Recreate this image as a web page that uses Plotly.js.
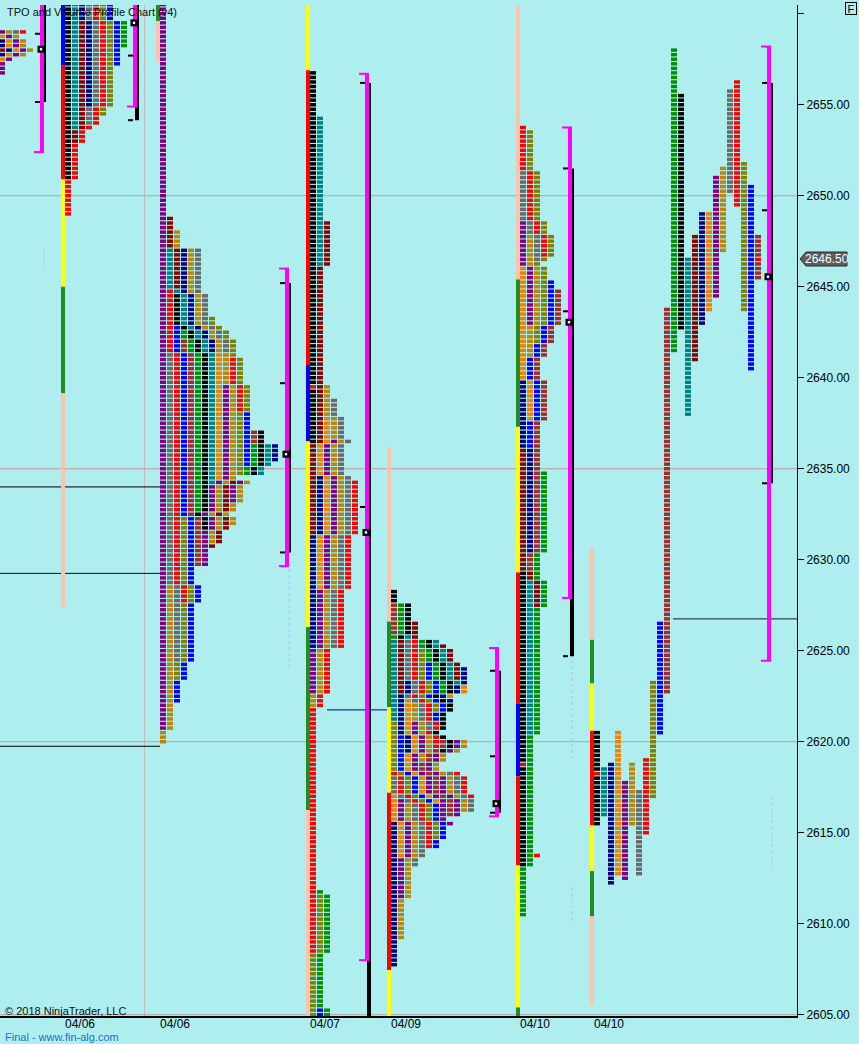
<!DOCTYPE html>
<html><head><meta charset="utf-8">
<script src="https://cdn.plot.ly/plotly-3.0.1.min.js"></script>
<style>html,body{margin:0;padding:0;background:#AFEEEE;}#chart{width:859px;height:1044px;}</style>
</head><body><div id="chart"></div>
<script>
// ---------------- DATA ----------------
// Session 1 (partial, far left) – TPO periods
const s1Colors = ['darkred','navy','orange','purple','goldenrod','gray','red'];
const s1Hi = [2658, 2658.5, 2658.75, 2659, 2659, 2659, 2659];
const s1Lo = [2658, 2657.75, 2657.5, 2656.75, 2657.75, 2659, 2659];

// Session 2 (04/06, first)
const s2Colors = ['black','teal','darkred','navy','gray','red','olive','blue','green'];
const s2Hi = [2661, 2661, 2659.5, 2661, 2661, 2661, 2661, 2661, 2659.5];
const s2Lo = [2651, 2653.75, 2653, 2655, 2654, 2649, 2654.5, 2657.25, 2658.25];

// Session 3 (04/06, main)
const s4Colors = ['purple','goldenrod','gray','red','olive','blue','brown','green','black','teal','darkred','navy','orange',
                  'purple','goldenrod','gray','red','olive','blue','brown','green','black','teal','darkred','navy','orange','purple','goldenrod'];
const s4Hi = [2661, 2628.5, 2641.25, 2644.75, 2632.25, 2642.75, 2642, 2642.5, 2644.5, 2647, 2648.75, 2647, 2641.25,
              2639.5, 2648, 2647, 2641, 2643.25, 2638, 2637, 2636.25, 2637, 2636.25, 2634.25, 2636.25, null, 2634.25, 2634.25];
const s4Lo = [2620.75, 2620, 2624.5, 2627.75, 2623.5, 2622.25, 2629.75, 2632.75, 2631.75, 2634.25, 2645, 2641.5, 2634.5,
              2629.75, 2631, 2641.5, 2638.25, 2634.75, 2635.25, 2636.5, 2634.75, 2634.75, 2634.75, 2630.75, 2635.5, null, 2633.25, 2632];

// Session 4 (04/07)
const s6Colors = ['black','teal','darkred','navy','orange','purple','goldenrod','gray','red','olive','blue','green'];
const s6Hi = [2656.75, 2654.25, 2648.5, 2634.5, 2637.75, 2636.5, 2639.5, 2638.75, 2634.25, 2611.5, 2605.25, 2611.75];
const s6Lo = [2636.5, 2646.25, 2631.5, 2625.25, 2628.5, 2622.75, 2622, 2625.25, 2608.5, 2604, 2604, 2604];
const s6Open = 2639.5;

// Session 5 (04/09)
const s8Colors = ['navy','orange','purple','goldenrod','gray','red','olive','blue','brown','green','black','teal','darkred',
                  'navy','orange','purple','goldenrod','gray','red','olive','blue','brown','green','black','teal','darkred',
                  'navy','orange','purple','goldenrod','gray','red'];
const s8Hi = [2615.5, 2617, 2616.75, 2616.5, 2618, 2618.25, 2621, 2620.25, 2627.5, 2627.5, 2628.25, 2625.75, 2626.5,
              2623.25, 2622.25, 2621, 2622, 2625.5, 2625.5, 2625, 2624.25, 2620, 2625.5, 2625.5, 2625.5, 2625.25,
              2624, 2623, 2620, 2620, 2618.25, 2618.25];
const s8Lo = [2607.75, 2613.75, 2611.5, 2609.25, 2613.25, 2614.25, 2614.75, 2614.25, 2626, 2625.75, 2625.75, 2621.25, 2622.75,
              2619.5, 2616.75, 2615.5, 2619, 2620.75, 2619.75, 2621.75, 2621.25, 2616, 2622.75, 2619.5, 2623.25, 2623.5,
              2622.25, 2622.5, 2616, 2616.25, 2616.25, 2617];

// Session 6 (04/10, first)
const s10Colors = ['black','teal','darkred','navy','orange','purple','goldenrod','gray','red','olive','blue','brown','green'];
const s10Hi = [2629.25, 2628.75, 2636, 2639.75, 2646, 2648.5, 2647.75, 2651.25, 2653.75, 2653.5, 2645.25, 2644.75, 2634.75];
const s10Lo = [2613.25, 2620.5, 2627.5, 2630.5, 2637.75, 2643, 2641.25, 2646.5, 2646.75, 2642, 2636.25, 2629.5, 2610.5];
const s10Open = 2618.75, s10Close = 2613.75;

// Session 7 (04/10, current – split periods)
const s12Colors = ['black','teal','navy','orange','purple','goldenrod','gray','red','olive','blue','brown','green',
                   'black','teal','darkred','navy','orange','purple','goldenrod','gray','red','olive','blue','brown'];
const s12Hi = [2620.5, 2618.5, 2618.75, 2620.5, 2617.75, 2618.75, 2617.25, 2619, 2623.25, 2626.5, 2643.75, 2658,
               2655.5, 2646.5, 2647.75, 2649, 2649, 2651, 2651.5, 2655.75, 2656.25, 2651.75, 2650.5, 2647.75];
const s12Lo = [2615.5, 2616, 2612.25, 2612.75, 2612.5, 2615.5, 2612.75, 2615, 2617, 2620.5, 2622.75, 2641.5,
               2642.75, 2638, 2641, 2643, 2643.75, 2644.5, 2647, 2650.25, 2649.5, 2643.75, 2640.5, 2645.5];
const s12Open = 2618.25, lastPrice = 2646.5;

// Session range bars (value area = magenta, black range, mid tick, POC square)
const vaHi  = [2661, 2661, 2646, 2656.7, 2625.15, 2653.75, 2658.2];
const vaLo  = [2652.4, 2654.9, 2629.65, 2608, 2615.9, 2627.9, 2624.45];
const rngHi = [2661, 2661, 2645.2, 2656.2, 2623.9, 2651.5, 2656.2];
const rngLo = [2655.15, 2654.15, 2630.4, 2604, 2616.1, 2624.7, 2634.2];
const rngMid= [2658.9, 2657.7, 2639.7, 2632.9, 2619.2, 2643.65, 2649.2];
const pocs  = [2658.05, 2659.5, 2635.8, 2631.5, 2616.6, 2643.05, 2645.55];

// Vertical period indicator strips (colour segments between edges)
const ind2Colors = ['blue','red','yellow','igreen','salmon'];
const ind2Edges  = [2661, 2657.15, 2650.9, 2645, 2639.15, 2627.4];
const ind4Colors = ['igreen','salmon'];
const ind4Edges  = [2661, 2659.6, 2657.4];
const ind6Colors = ['yellow','red','blue','yellow','igreen','salmon'];
const ind6Edges  = [2661, 2656.9, 2640.7, 2636.5, 2626.3, 2616.25, 2604];
const ind8Colors = ['salmon','igreen','yellow','red','yellow'];
const ind8Edges  = [2636.2, 2626.6, 2621.9, 2617.2, 2607.45, 2604];
const ind10Colors = ['salmon','igreen','yellow','red','blue','red','yellow','igreen'];
const ind10Edges  = [2661, 2645.4, 2637.3, 2629.3, 2622.1, 2618.1, 2613.2, 2605.4, 2604];
const ind12Colors = ['salmon','igreen','yellow','red','yellow','igreen','salmon'];
const ind12Edges  = [2630.6, 2625.6, 2623.2, 2620.6, 2615.4, 2612.9, 2610.4, 2605.5];

// Horizontal reference levels
const gridPrices = [2650, 2635, 2620, 2605];
const levelPrices = [2634, 2629.25, 2619.75, 2621.75, 2626.75];

// Axis labels
const dateLabels = ['04/06','04/06','04/07','04/09','04/10','04/10'];
const yTickValues = [2605, 2610, 2615, 2620, 2625, 2630, 2635, 2640, 2645, 2650, 2655, 2660];

// ---------------- STYLE / LAYOUT CONFIG ----------------
const PALETTE = {purple:'#800080', goldenrod:'#B8860B', gray:'#696969', red:'#FF0000', olive:'#808000', blue:'#0000FF',
  brown:'#A52A2A', green:'#009000', black:'#000000', teal:'#008080', darkred:'#8B0000', navy:'#000080', orange:'#F08000',
  yellow:'#FFFF00', igreen:'#228B22', salmon:'#FFC2AA', magenta:'#FF00FF'};
const PITCH = 7, BW = 6, BH = 0.19;
const PROFILE_LEFT = {s1:-1, s2:65, s4:160, s6:310, s8:391, s10:520, s12:594};
const BAR_X = [40, 133, 285, 365, 495, 568, 767];
const IND_X = {i2:61, i4:156, i6:306, i8:387, i10:516, i12:590};
const LEVEL_SPAN = [[0,160,'#000000'],[0,160,'#000080'],[0,160,'#000000'],[327,390,'#000080'],[673,797,'#101030']];
const GRID_COL = ['#A8A8A8','#C49C9C','#A8A8A8','#A8A8A8'];
const DATE_X = [80, 175, 325, 406, 535, 609];
const FONT = 'Liberation Sans, Arial, sans-serif';
const PW = 797, PTOP = 5, PBOT = 1016, PH = PBOT - PTOP;
const px = v => v / PW, py = v => (PBOT - v) / PH;

// ---------------- BUILD BLOCKS ----------------
const blk = {x:[], base:[], y:[], c:[]};
function push(left, p, c){ blk.x.push(left + BW/2); blk.base.push(p - BH/2); blk.y.push(BH); blk.c.push(c); }
function stack(colors, hi, lo, left, opt){
  let qmax=-Infinity, qmin=Infinity;
  colors.forEach((_,i)=>{ if(hi[i]==null) return; qmax=Math.max(qmax,Math.round(hi[i]*4)); qmin=Math.min(qmin,Math.round(lo[i]*4)); });
  for(let q=qmax;q>=qmin;q--){
    let j=0;
    for(let i=0;i<colors.length;i++){
      if(hi[i]==null) continue;
      if(Math.round(hi[i]*4)>=q && Math.round(lo[i]*4)<=q){
        let c = PALETTE[colors[i]];
        if(opt.open!=null && j===0 && Math.round(opt.open*4)===q) c = PALETTE.red;
        push(left + j*PITCH, q/4, c); j++;
      }
    }
    if(opt.close!=null && Math.round(opt.close*4)===q) push(left + j*PITCH, q/4, PALETTE.red);
  }
}
function split(colors, hi, lo, left, opt){
  const n = colors.length;
  for(let i=0;i<n;i++){
    for(let q=Math.round(hi[i]*4); q>=Math.round(lo[i]*4); q--){
      let c = PALETTE[colors[i]];
      if(i===0 && opt.open!=null && Math.round(opt.open*4)===q) c = PALETTE.red;
      if(i===n-1 && opt.last!=null && Math.round(opt.last*4)===q) c = PALETTE.red;
      push(left + i*PITCH, q/4, c);
    }
  }
}
stack(s1Colors, s1Hi, s1Lo, PROFILE_LEFT.s1, {});
stack(s2Colors, s2Hi, s2Lo, PROFILE_LEFT.s2, {});
stack(s4Colors, s4Hi, s4Lo, PROFILE_LEFT.s4, {});
stack(s6Colors, s6Hi, s6Lo, PROFILE_LEFT.s6, {open:s6Open});
stack(s8Colors, s8Hi, s8Lo, PROFILE_LEFT.s8, {});
stack(s10Colors, s10Hi, s10Lo, PROFILE_LEFT.s10, {open:s10Open, close:s10Close});
split(s12Colors, s12Hi, s12Lo, PROFILE_LEFT.s12, {open:s12Open, last:lastPrice});

// ---------------- SHAPES ----------------
const shapes = [];
const rect = (x0,x1,y0,y1,col,layer)=>shapes.push({type:'rect',xref:'x',yref:'y',x0,x1,y0,y1,fillcolor:col,line:{width:0},layer:layer||'above'});
gridPrices.forEach((p,i)=>shapes.push({type:'line',xref:'x',yref:'y',x0:0,x1:PW,y0:p,y1:p,line:{color:GRID_COL[i],width:1},layer:'below'}));
shapes.push({type:'line',xref:'x',yref:'paper',x0:144.5,x1:144.5,y0:0,y1:1,line:{color:'#C8B6B6',width:1},layer:'below'});
levelPrices.forEach((p,i)=>shapes.push({type:'line',xref:'x',yref:'y',x0:LEVEL_SPAN[i][0],x1:LEVEL_SPAN[i][1],y0:p,y1:p,line:{color:LEVEL_SPAN[i][2],width:1},layer:'below'}));
function strip(x, cols, edges){ cols.forEach((c,i)=>rect(x, x+4, edges[i+1], edges[i], PALETTE[c])); }
strip(IND_X.i2, ind2Colors, ind2Edges); strip(IND_X.i4, ind4Colors, ind4Edges);
strip(IND_X.i6, ind6Colors, ind6Edges); strip(IND_X.i8, ind8Colors, ind8Edges);
strip(IND_X.i10, ind10Colors, ind10Edges); strip(IND_X.i12, ind12Colors, ind12Edges);
const T = 0.055;
BAR_X.forEach((bx,i)=>{
  rect(bx+2, bx+6, rngLo[i], rngHi[i], '#000000');
  [rngHi[i], rngMid[i], rngLo[i]].forEach(p=>rect(bx-5, bx, p-T, p+T, '#000000'));
  rect(bx, bx+4, vaLo[i], vaHi[i], PALETTE.magenta);
  [vaHi[i], vaLo[i]].forEach(p=>rect(bx-6, bx+4, p-T, p+T, PALETTE.magenta));
});
// POC squares: black frame with white centre
const SQ = 3.5, SQY = SQ/18.2, IN = 1.2, INY = IN/18.2;
BAR_X.forEach((bx,i)=>{
  rect(bx+1-SQ, bx+1+SQ, pocs[i]-SQY, pocs[i]+SQY, '#000000');
  rect(bx+1-IN, bx+1+IN, pocs[i]-INY, pocs[i]+INY, '#FFFFFF');
});
// faint dotted volume hints
[[44,2647.1,2646],[289,2629.5,2624],[572,2624.5,2619],[572,2612,2610],[772,2617,2613],[499,2625.5,2624.8]].forEach(d=>
  shapes.push({type:'line',xref:'x',yref:'y',x0:d[0],x1:d[0],y0:d[1],y1:d[2],line:{color:'#A4C4EE',width:1,dash:'dot'},layer:'below'}));
// current price tag
const tag = [[800,259],[806,252],[847,252],[847,266],[806,266]].map(p=>px(p[0])+','+py(p[1]));
shapes.push({type:'path',xref:'paper',yref:'paper',path:'M'+tag.join(' L')+' Z',fillcolor:'#5E5E5E',line:{color:'#2A2A2A',width:1}});

// ---------------- TRACES ----------------
const traces = [
  {type:'bar', x:blk.x, base:blk.base, y:blk.y, width:BW, marker:{color:blk.c, line:{width:0}}, hoverinfo:'skip'}
];

const annotations = [
  {text:'TPO and Volume Profile Chart (v4)', xref:'paper', yref:'paper', x:px(5), y:py(12), xanchor:'left', yanchor:'middle', showarrow:false, font:{family:FONT,size:11,color:'#111'}},
  {text:'© 2018 NinjaTrader, LLC', xref:'paper', yref:'paper', x:px(3), y:py(1010.5), xanchor:'left', yanchor:'middle', showarrow:false, font:{family:FONT,size:11,color:'#111'}},
  {text:'Final - www.fin-alg.com', xref:'paper', yref:'paper', x:px(3), y:py(1037), xanchor:'left', yanchor:'middle', showarrow:false, font:{family:FONT,size:11,color:'#1E6FD0'}},
  {text:lastPrice.toFixed(2), xref:'paper', yref:'paper', x:px(827), y:py(259), xanchor:'center', yanchor:'middle', showarrow:false, font:{family:FONT,size:12,color:'#FFFFFF'}},
  {text:'F', xref:'paper', yref:'paper', x:px(851), y:py(9), xanchor:'center', yanchor:'middle', showarrow:false, width:10, height:11, bordercolor:'#000', borderwidth:1, borderpad:0, font:{family:FONT,size:11,color:'#000'}}
];
dateLabels.forEach((t,i)=>annotations.push({text:t, xref:'x', yref:'paper', x:DATE_X[i], y:py(1024), xanchor:'center', yanchor:'middle',
  showarrow:false, font:{family:FONT,size:12,color:'#000'}}));

const layout = {
  width:859, height:1044, margin:{l:0, r:62, t:PTOP, b:1044-PBOT},
  paper_bgcolor:'#AFEEEE', plot_bgcolor:'#AFEEEE', showlegend:false, barmode:'overlay',
  xaxis:{range:[0,PW], showgrid:false, zeroline:false, showline:true, linecolor:'#000', linewidth:2, ticks:'', showticklabels:false, fixedrange:true},
  yaxis:{range:[2604.93, 2660.48], side:'right', showgrid:false, zeroline:false, showline:true, linecolor:'#000', linewidth:1,
    ticks:'outside', ticklen:6, tickcolor:'#000', tickmode:'array', tickvals:yTickValues,
    ticktext:yTickValues.map(v=>v===2660?'':v.toFixed(2)), tickfont:{family:FONT,size:12,color:'#000'}, fixedrange:true},
  shapes, annotations
};
Plotly.newPlot('chart', traces, layout, {staticPlot:true, displayModeBar:false});
</script></body></html>
